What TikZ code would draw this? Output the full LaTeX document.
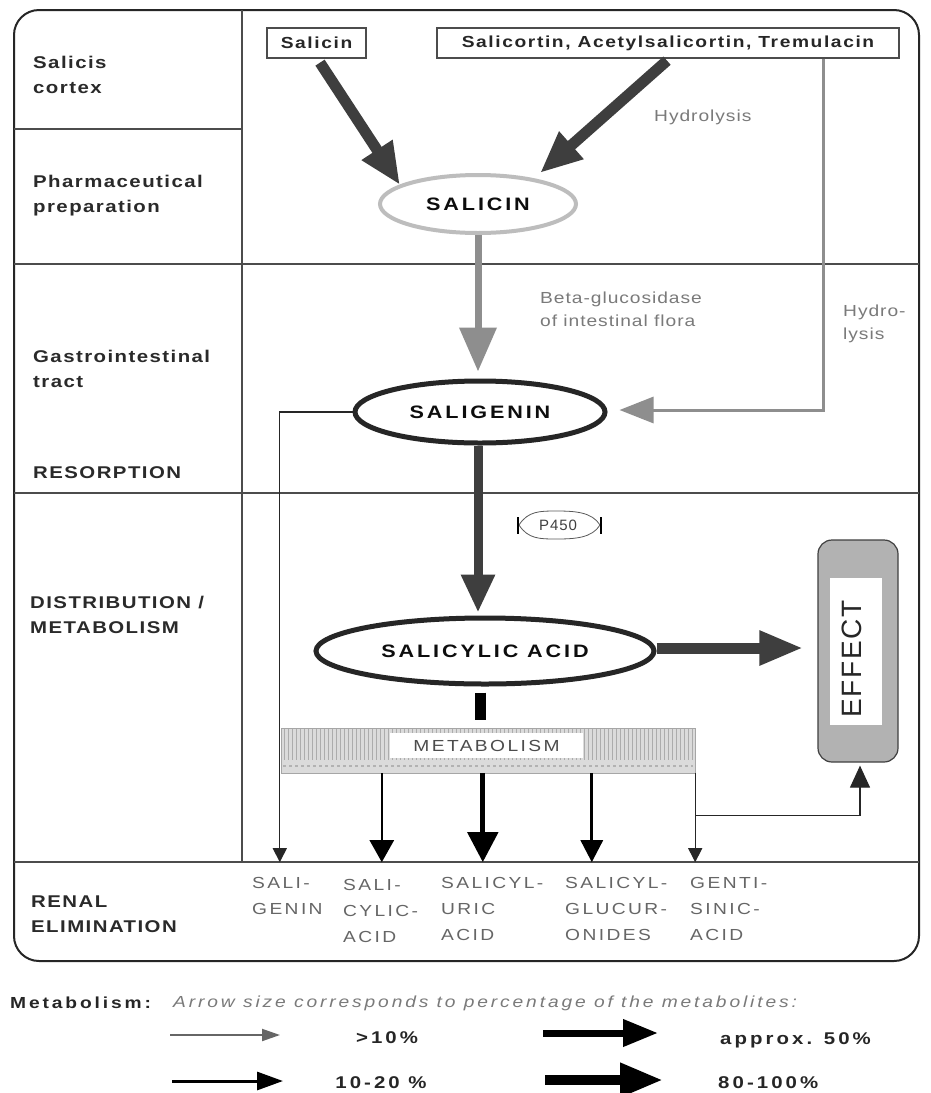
\documentclass[tikz,border=0pt]{standalone}
\usepackage{fontspec}
\setmainfont{Liberation Sans}[FakeStretch=1.2]
\newfontfamily\fLbl{Liberation Sans}[FakeStretch=1.2,LetterSpace=8.5]
\newfontfamily\fBox{Liberation Sans}[FakeStretch=1.2,LetterSpace=10]
\newfontfamily\fEll{Liberation Sans}[FakeStretch=1.2,LetterSpace=16]
\newfontfamily\fGray{Liberation Sans}[FakeStretch=1.2,LetterSpace=6]
\newfontfamily\fRen{Liberation Sans}[FakeStretch=1.2,LetterSpace=15]
\newfontfamily\fLeg{Liberation Sans}[FakeStretch=1.2,LetterSpace=18]
\newfontfamily\fPlain{Liberation Sans}[LetterSpace=6]
\usetikzlibrary{arrows.meta,shapes.geometric,calc}
\definecolor{lblc}{HTML}{2A2A2A}
\definecolor{grayt}{HTML}{7A7A7A}
\definecolor{rent}{HTML}{666666}
\definecolor{hatch}{HTML}{3E3E3E}
\definecolor{garrow}{HTML}{8E8E8E}
\definecolor{salc}{HTML}{BDBDBD}
\tikzset{
  lbl/.style={anchor=west, inner sep=0pt, align=left, text=lblc,
    font=\fLbl\bfseries\fontsize{17}{25}\selectfont},
  boxn/.style={draw=black!70, line width=1.3pt, inner sep=0pt, minimum height=30pt,
    text=black!85, font=\fBox\bfseries\fontsize{16}{20}\selectfont},
  ell/.style={ellipse, draw=black!85, line width=5pt, inner sep=0pt, text=black!95,
    font=\fEll\bfseries\fontsize{18}{20}\selectfont},
  graytext/.style={anchor=west, inner sep=0pt, align=left, text=grayt,
    font=\fGray\fontsize{16}{23}\selectfont},
  rentext/.style={anchor=north west, inner sep=0pt, align=left, text=rent,
    font=\fRen\fontsize{16}{26}\selectfont},
  hatcharrow/.style={draw=hatch, line width=11pt, -{Triangle[length=42pt,width=34pt]}},
  grayarrow/.style={draw=garrow, line width=7pt, -{Triangle[length=44pt,width=36pt]}},
  gridl/.style={draw=black!70, line width=1.3pt},
  mA/.style={draw=black!85, line width=1.2pt, -{Triangle[length=14pt,width=14pt]}},
  mB/.style={draw=black, line width=2.6pt, -{Triangle[length=22pt,width=24pt]}},
  mC/.style={draw=black, line width=3pt, -{Triangle[length=22pt,width=22pt]}},
  mD/.style={draw=black, line width=5pt, -{Triangle[length=30pt,width=30pt]}},
  legtext/.style={inner sep=0pt, text=black!85, font=\fLeg\bfseries\fontsize{17}{20}\selectfont},
}
\begin{document}
\begin{tikzpicture}[x=1pt,y=-1pt]
\useasboundingbox (0,0) rectangle (930,1093);
\fill[white] (0,0) rectangle (930,1093);

% frame and grid
\draw[line width=2pt, black!85, rounded corners=25pt] (14,10) rectangle (919,961);
\draw[gridl] (242,10) -- (242,862);
\draw[gridl] (14,129) -- (242,129);
\draw[gridl] (14,264) -- (919,264);
\draw[gridl] (14,493) -- (919,493);
\draw[gridl] (14,862) -- (919,862);

% left labels
\node[lbl] (l1) at (33,75) {Salicis\\cortex};
\node[lbl] (l2) at (33,196) {Pharmaceutical\\preparation};
\node[lbl] (l3) at (33,369) {Gastrointestinal\\tract};
\node[lbl] (l4) at (33,473) {RESORPTION};
\node[lbl] (l5) at (30,615) {DISTRIBUTION /\\METABOLISM};
\node[lbl] (l6) at (31,914) {RENAL\\ELIMINATION};

% top boxes
\node[boxn, minimum width=99pt] (bSalicin) at (316.5,43) {Salicin};
\node[boxn, minimum width=462pt] (bSalicortin) at (668,43) {Salicortin, Acetylsalicortin, Tremulacin};

% ellipses
\node[ell, draw=salc, line width=4pt, minimum width=196pt, minimum height=58pt] (salicin) at (478,204) {SALICIN};
\node[ell, minimum width=250pt, minimum height=62pt] (saligenin) at (480,412) {SALIGENIN};
\node[ell, minimum width=338pt, minimum height=66pt] (salicylic) at (485,651) {SALICYLIC ACID};

% gray texts
\node[graytext] (hyd1) at (654,117) {Hydrolysis};
\node[graytext] (beta) at (540,309) {Beta-glucosidase\\of intestinal flora};
\node[graytext] (hyd2) at (843,324) {Hydro-\\lysis};

% top arrows
\draw[hatcharrow] ($(bSalicin.south)+(3.5,4)$) -- ($(salicin.center)+(-78,-19)$);
\draw[hatcharrow] ($(bSalicortin.south)+(-1,2)$) -- ($(salicin.center)+(62,-31)$);

% salicin -> saligenin
\draw[grayarrow] (salicin.south) -- ($(saligenin.north)+(-2,-7)$);
\draw[draw=garrow, line width=3pt, -{Triangle[length=34pt,width=26pt]}]
  ($(bSalicortin.south west)+(387,0)$) |- ($(saligenin.east)+(12,-2)$);

% saligenin -> salicylic acid
\draw[hatcharrow, line width=9pt, -{Triangle[length=38pt,width=32pt]}] ($(saligenin.south)+(-2,0)$) -- ($(saligenin.south |- salicylic.north)+(-2,-3)$);

% P450
\node[inner sep=0pt, text=black!75, font=\fPlain\fontsize{15}{16}\selectfont] (p450) at (558,525) {P450};
\draw[black!65, line width=0.8pt] (519,525) .. controls (528,511) and (540,511) .. (556,511)
  .. controls (575,511) and (592,512) .. (600,525)
  .. controls (592,538) and (575,539) .. (556,539)
  .. controls (540,539) and (528,539) .. (519,525);
\draw[black, line width=1.6pt] (518,517) -- (518,534);
\draw[black, line width=1.6pt] (601,517) -- (601,534);

% effect
\node[draw=black!75, line width=1.2pt, fill=gray!60, rounded corners=14pt,
  minimum width=80pt, minimum height=222pt, inner sep=0pt] (effect) at (858,651) {};
\node[fill=white, minimum width=52pt, minimum height=147pt, inner sep=0pt] (effin) at (856,651.5) {};
\node[rotate=90, inner sep=0pt, text=black!85, font=\fPlain\fontsize{28}{30}\selectfont] (efftext) at (852,659) {EFFECT};
\draw[hatcharrow, line width=11pt, -{Triangle[length=44pt,width=32pt]}]
  ($(salicylic.east)+(0,-3)$) -- ($(effect.west)+(-14,-3)$);

% metabolism band
\node[draw=gray!70, fill=gray!28, minimum width=414pt, minimum height=45pt, inner sep=0pt] (band) at (488,750.5) {};
\foreach \x in {284,288,...,692} \draw[gray!65, line width=0.8pt] (\x,729) -- (\x,760);
\draw[gray!60, dashed, line width=2pt] (283,766) -- (693,766);
\node[fill=white, minimum width=193pt, minimum height=25pt, inner sep=0pt, text=black!70,
  font=\fRen\fontsize{16}{18}\selectfont] (metalbl) at (486.5,745.5) {METABOLISM};
\draw[line width=11pt] ($(salicylic.south)+(-5,6)$) -- ($(band.north)+(-8,-8)$);

% metabolite arrows
\draw[mA] (saligenin.west) -| ($(band.south west)+(-1,89)$);
\draw[mB] ($(band.south west)+(101,0)$) -- ($(band.south west)+(101,89)$);
\draw[mD] ($(band.south west)+(202,0)$) -- ($(band.south west)+(202,89)$);
\draw[mC] ($(band.south west)+(311,0)$) -- ($(band.south west)+(311,89)$);
\draw[mA] (band.south east) -- ($(band.south east)+(0,89)$);
\draw[draw=black!85, line width=1.2pt, -{Triangle[length=22pt,width=20pt]}]
  ($(band.south east)+(0,42)$) -| ($(effect.south)+(2,3)$);

% renal labels
\node[rentext] (r1) at (252,877) {SALI-\\GENIN};
\node[rentext] (r2) at (343,879) {SALI-\\CYLIC-\\ACID};
\node[rentext] (r3) at (441,877) {SALICYL-\\URIC\\ACID};
\node[rentext] (r4) at (565,877) {SALICYL-\\GLUCUR-\\ONIDES};
\node[rentext] (r5) at (690,877) {GENTI-\\SINIC-\\ACID};

% legend
\node[anchor=west, inner sep=0pt, text=black!85, font=\fLeg\bfseries\fontsize{16}{18}\selectfont] (legt) at (10,1003) {Metabolism:};
\node[anchor=west, inner sep=0pt, text=grayt, font=\fLeg\itshape\fontsize{16}{18}\selectfont] (legs) at (173,1003) {Arrow size corresponds to percentage of the metabolites:};
\coordinate (a1s) at (170,1035); \coordinate (a1e) at (280,1035);
\coordinate (a2s) at (172,1081); \coordinate (a2e) at (283,1081);
\coordinate (a3s) at (543,1033); \coordinate (a3e) at (658,1033);
\coordinate (a4s) at (545,1080); \coordinate (a4e) at (663,1080);
\draw[draw=gray!80!black, line width=2pt, -{Triangle[length=18pt,width=12pt]}] (a1s) -- (a1e);
\draw[draw=black, line width=3pt, -{Triangle[length=26pt,width=18pt]}] (a2s) -- (a2e);
\draw[draw=black, line width=7pt, -{Triangle[length=35pt,width=26pt]}] (a3s) -- (a3e);
\draw[draw=black, line width=10pt, -{Triangle[length=43pt,width=32pt]}] (a4s) -- (a4e);
\node[legtext] (v1) at (387,1038) {>10\%};
\node[legtext] (v2) at (381,1083) {10-20 \%};
\node[legtext, anchor=west] (v3) at (720,1040) {approx. 50\%};
\node[legtext, anchor=west] (v4) at (718,1083) {80-100\%};
\end{tikzpicture}
\end{document}
